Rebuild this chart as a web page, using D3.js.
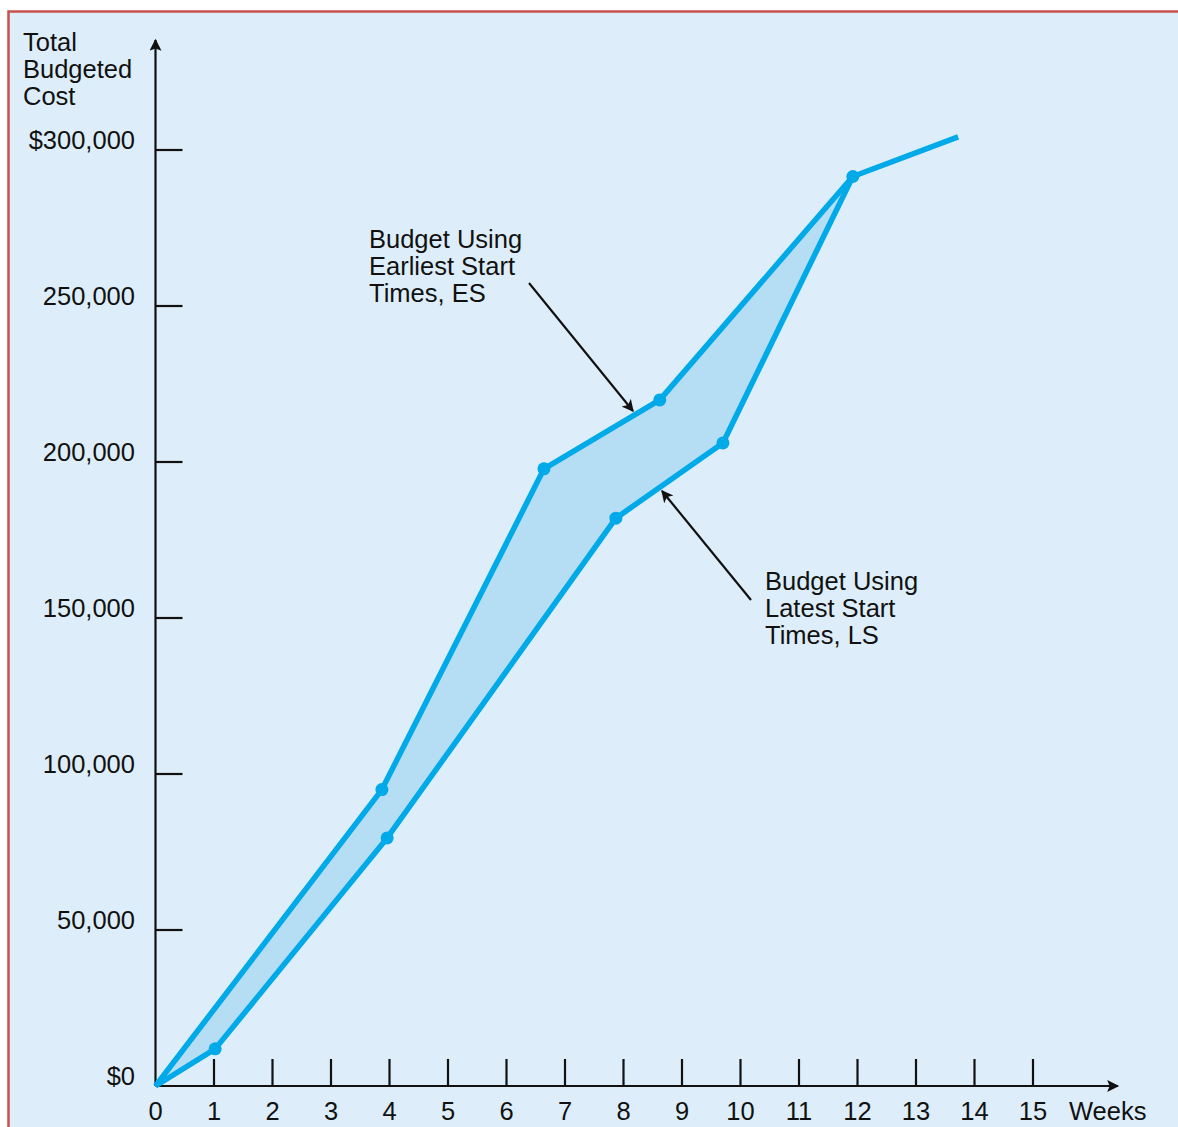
<!DOCTYPE html>
<html>
<head>
<meta charset="utf-8">
<script src="https://cdn.jsdelivr.net/npm/d3@7"></script>
<style>
  html, body { margin: 0; padding: 0; background: #fff; }
  svg text { font-family: "Liberation Sans", Arial, sans-serif; fill: #111; }
</style>
</head>
<body>
<svg id="chart"></svg>
<script>
// weeks / cost
const esWeeks = [0, 3.87, 6.64, 8.62, 11.92, 13.72];
const esCost = [0, 95000, 197800, 219900, 291500, 304200];
const lsWeeks = [0, 1.02, 3.96, 7.87, 9.70, 11.92];
const lsCost = [0, 11900, 79500, 182000, 206100, 291500];
const esDots = [3.87, 6.64, 8.62, 11.92];
const lsDots = [1.02, 3.96, 7.87, 9.70];

const xTicks = d3.range(0, 16);
const yTicks = [0, 50000, 100000, 150000, 200000, 250000, 300000];
const yTickLabels = ['$0', '50,000', '100,000', '150,000', '200,000', '250,000', '$300,000'];

const width = 1178, height = 1127;
const lineColor = '#00a9e8';
const fillColor = '#b5ddf4';
const bg = '#ddeefa';

const svg = d3.select('#chart').attr('width', width).attr('height', height);

// frame
svg.append('rect').attr('x', 8).attr('y', 11).attr('width', width).attr('height', height)
  .attr('fill', bg);
svg.append('path').attr('d', `M8.5,${height} V11.5 H${width}`)
  .attr('fill', 'none').attr('stroke', '#c8504e').attr('stroke-width', 2.5);

const x = d3.scaleLinear().domain([0, 15]).range([155.5, 1033]);
const y = d3.scaleLinear().domain([0, 300000]).range([1086, 150]);

const defs = svg.append('defs');
defs.append('marker').attr('id', 'axArrow')
  .attr('viewBox', '0 0 10 10').attr('refX', 9).attr('refY', 5)
  .attr('markerWidth', 22).attr('markerHeight', 12).attr('markerUnits', 'userSpaceOnUse')
  .attr('orient', 'auto')
  .append('path').attr('d', 'M0,0 L10,5 L0,10 L2,5 Z').attr('fill', '#111');
defs.append('marker').attr('id', 'noteArrow')
  .attr('viewBox', '0 0 10 10').attr('refX', 9).attr('refY', 5)
  .attr('markerWidth', 20).attr('markerHeight', 12).attr('markerUnits', 'userSpaceOnUse')
  .attr('orient', 'auto')
  .append('path').attr('d', 'M0,0 L10,5 L0,10 L2.5,5 Z').attr('fill', '#111');

// band between the two budgets
const esPts = esWeeks.map((w, i) => [w, esCost[i]]).slice(0, 5);
const lsPts = lsWeeks.map((w, i) => [w, lsCost[i]]);
const band = esPts.concat(lsPts.slice().reverse());
svg.append('path')
  .attr('d', d3.line().x(d => x(d[0])).y(d => y(d[1]))(band) + 'Z')
  .attr('fill', fillColor);

// axes
const axis = svg.append('g').attr('stroke', '#111').attr('stroke-width', 2.2);
axis.append('line').attr('x1', x(0)).attr('x2', x(0)).attr('y1', y(0)).attr('y2', 40)
  .attr('marker-end', 'url(#axArrow)');
axis.append('line').attr('x1', x(0)).attr('x2', 1118).attr('y1', y(0)).attr('y2', y(0))
  .attr('marker-end', 'url(#axArrow)');

axis.selectAll('.xt').data(xTicks.slice(1)).enter().append('line')
  .attr('x1', d => x(d)).attr('x2', d => x(d))
  .attr('y1', y(0)).attr('y2', y(0) - 27);
axis.selectAll('.yt').data(yTicks.slice(1)).enter().append('line')
  .attr('x1', x(0)).attr('x2', x(0) + 27)
  .attr('y1', d => y(d)).attr('y2', d => y(d));

svg.selectAll('.xl').data(xTicks).enter().append('text')
  .attr('x', d => x(d)).attr('y', y(0) + 34)
  .attr('text-anchor', 'middle').attr('font-size', 25.5)
  .text(d => d);
svg.append('text').attr('x', 1069).attr('y', y(0) + 34)
  .attr('font-size', 25.5).text('Weeks');

svg.selectAll('.yl').data(yTicks).enter().append('text')
  .attr('x', 135).attr('y', d => y(d) - 1)
  .attr('text-anchor', 'end').attr('font-size', 25.5)
  .text((d, i) => yTickLabels[i]);

const yTitle = svg.append('text').attr('x', 24).attr('font-size', 25.5);
['Total', 'Budgeted', 'Cost'].forEach((t, i) => {
  yTitle.append('tspan').attr('x', 23).attr('y', 51 + i * 27).text(t);
});

// lines
const line = d3.line().x((d, i) => x(d[0])).y(d => y(d[1]));
svg.append('path')
  .attr('d', line(esWeeks.map((w, i) => [w, esCost[i]])))
  .attr('fill', 'none').attr('stroke', lineColor).attr('stroke-width', 5.5)
  .attr('stroke-linejoin', 'round');
svg.append('path')
  .attr('d', line(lsWeeks.map((w, i) => [w, lsCost[i]])))
  .attr('fill', 'none').attr('stroke', lineColor).attr('stroke-width', 5.5)
  .attr('stroke-linejoin', 'round');

svg.selectAll('.esd').data(esDots).enter().append('circle')
  .attr('cx', d => x(d)).attr('cy', d => y(esCost[esWeeks.indexOf(d)]))
  .attr('r', 6.5).attr('fill', lineColor);
svg.selectAll('.lsd').data(lsDots).enter().append('circle')
  .attr('cx', d => x(d)).attr('cy', d => y(lsCost[lsWeeks.indexOf(d)]))
  .attr('r', 6.5).attr('fill', lineColor);

// annotations
function note(lines, tx, ty) {
  const t = svg.append('text').attr('font-size', 25.5);
  lines.forEach((s, i) => t.append('tspan').attr('x', tx).attr('y', ty + i * 27).text(s));
}
note(['Budget Using', 'Earliest Start', 'Times, ES'], 369, 248);
note(['Budget Using', 'Latest Start', 'Times, LS'], 765, 590);

svg.append('line').attr('x1', 529).attr('y1', 283).attr('x2', 633).attr('y2', 411)
  .attr('stroke', '#111').attr('stroke-width', 2.2).attr('marker-end', 'url(#noteArrow)');
svg.append('line').attr('x1', 751).attr('y1', 600).attr('x2', 662).attr('y2', 491)
  .attr('stroke', '#111').attr('stroke-width', 2.2).attr('marker-end', 'url(#noteArrow)');
</script>
</body>
</html>
